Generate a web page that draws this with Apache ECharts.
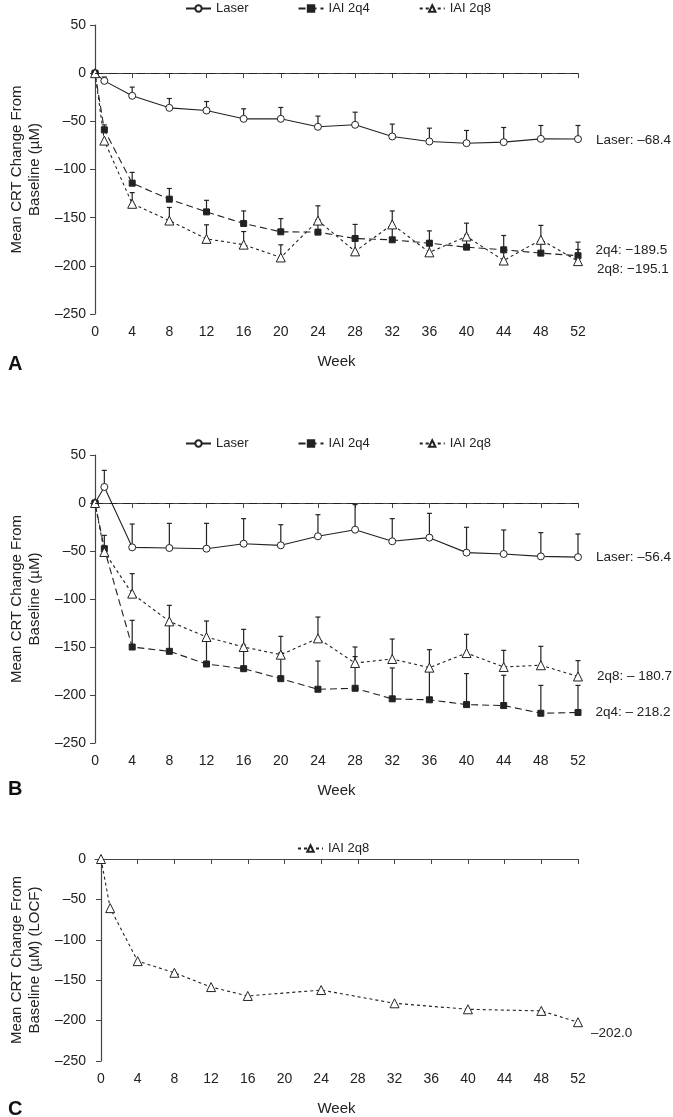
<!DOCTYPE html>
<html lang="en">

<head>
    <meta charset="UTF-8">
    <title>Mean CRT Change From Baseline</title>
    <style>
        html,
        body {
            margin: 0;
            padding: 0;
            width: 100%;
            height: 100%;
            background: #fff;
        }
    </style>
</head>

<body>
    <div id="main" style="width: 673px;height:1117px;"></div>
    <script src="https://cdn.jsdelivr.net/npm/echarts@6/dist/echarts.min.js"></script>
    <script type="text/javascript">
        // weeks of the visits
        var weeks = [0, 1, 4, 8, 12, 16, 20, 24, 28, 32, 36, 40, 44, 48, 52];
        var weeksC = [0, 1, 4, 8, 12, 16, 24, 32, 40, 48, 52];
        var weekTicks = [0, 4, 8, 12, 16, 20, 24, 28, 32, 36, 40, 44, 48, 52];

        // panel A: means and top of the error bars
        var laserA = [0, -8, -23.5, -36, -38.8, -47.4, -47.4, -55.7, -53.6, -65.7, -70.9, -72.7, -71.6, -68.2, -68.4];
        var laserATop = [null, -4, -14.5, -26.3, -29.4, -37, -35.6, -44.6, -40.5, -52.9, -57.1, -59.5, -56.4, -54.3, -54.3];
        var q4A = [0, -58.8, -114.2, -130.8, -144, -156, -164.7, -165, -171.6, -173, -176.5, -180.6, -183.4, -186.8, -189.5];
        var q4ATop = [null, -53.7, -103, -119.7, -132, -143, -151, -152, -157, -161, -163.7, -168, -168.5, -174, -175.4];
        var q8A = [0, -70, -135.6, -153, -172, -178, -191.3, -153, -185, -157, -186, -169.5, -194.5, -173, -195.1];
        var q8ATop = [null, null, -124, -139.4, -157.4, -164.4, -178.2, -137.7, -172, -143, -174, -155.7, -181, -158, -183];

        // panel B
        var laserB = [0, 16.7, -46.2, -46.9, -47.6, -42.4, -44.1, -34.7, -27.8, -39.9, -36.1, -51.7, -53.1, -55.6, -56.4];
        var laserBTop = [null, 34, -21.9, -21.2, -21.2, -16.3, -22.6, -12.2, -1.7, -16.3, -10.8, -25.3, -28.1, -30.9, -32.3];
        var q4B = [0, -47.6, -150, -154.5, -167.7, -172.6, -183, -194, -193, -204, -205, -210, -211, -219, -218.2];
        var q4BTop = [null, -33.7, -122.2, -126, -140, -148, -156, -164.6, -160, -171.8, -174, -177.7, -179.5, -190, -190];
        var q8B = [0, -51, -94.4, -123.3, -139.6, -150, -158, -141, -166.7, -162.5, -171.5, -156.3, -170.8, -169, -180.7];
        var q8BTop = [null, null, -73.6, -106.6, -122.9, -131.6, -138.9, -118.8, -150, -141.7, -152.8, -136.8, -153.5, -149.3, -164.2];

        // panel C (LOCF)
        var q8C = [0, -60.8, -126.4, -140.8, -158.5, -169.5, -162.2, -178.6, -186, -188, -202.0];

        var font = 'Liberation Sans, Arial, sans-serif';
        var ink = '#222';

        var myChart = echarts.init(document.getElementById('main'));

        function minus(v) {
            return v < 0 ? '\u2013' + Math.abs(v) : '' + v;
        }

        // pair weeks with values, the last point can carry a label
        function pts(xs, ys, endText, offset) {
            return xs.map(function (x, i) {
                var item = { value: [x, ys[i]] };
                if (endText && i === xs.length - 1) {
                    item.label = {
                        show: true,
                        position: 'right',
                        distance: 14,
                        offset: offset || [0, 0],
                        formatter: endText,
                        color: ink,
                        fontSize: 13.5,
                        fontFamily: font
                    };
                }
                return item;
            });
        }

        function errData(xs, ys, tops) {
            var out = [];
            xs.forEach(function (x, i) {
                if (tops[i] != null) out.push([x, ys[i], tops[i]]);
            });
            return out;
        }

        function errSeries(idx, xs, ys, tops) {
            return {
                type: 'custom',
                xAxisIndex: idx,
                yAxisIndex: idx,
                silent: true,
                z: 1,
                renderItem: function (params, api) {
                    var p0 = api.coord([api.value(0), api.value(1)]);
                    var p1 = api.coord([api.value(0), api.value(2)]);
                    return {
                        type: 'group',
                        children: [{
                            type: 'line',
                            shape: { x1: p0[0], y1: p0[1], x2: p1[0], y2: p1[1] },
                            style: { stroke: ink, lineWidth: 1.2 }
                        }, {
                            type: 'line',
                            shape: { x1: p1[0] - 2.5, y1: p1[1], x2: p1[0] + 2.5, y2: p1[1] },
                            style: { stroke: ink, lineWidth: 1.2 }
                        }]
                    };
                },
                encode: { x: 0, y: [1, 2] },
                data: errData(xs, ys, tops)
            };
        }

        var styles = {
            'Laser': { symbol: 'circle', symbolSize: 7, fill: '#fff', dash: 'solid' },
            'IAI 2q4': { symbol: 'rect', symbolSize: 6, fill: ink, dash: [7, 4] },
            'IAI 2q8': { symbol: 'triangle', symbolSize: 9, fill: '#fff', dash: [3, 3] }
        };

        function lineSeries(name, idx, xs, ys, endText, offset, zeroLine) {
            var st = styles[name];
            var s = {
                name: name,
                type: 'line',
                xAxisIndex: idx,
                yAxisIndex: idx,
                z: 3,
                symbol: st.symbol,
                symbolSize: st.symbolSize,
                showAllSymbol: true,
                itemStyle: { color: st.fill, borderColor: ink, borderWidth: 1 },
                lineStyle: { color: ink, width: 1.1, type: st.dash },
                data: pts(xs, ys, endText, offset)
            };
            if (zeroLine) {
                s.markLine = {
                    silent: true,
                    symbol: 'none',
                    label: { show: false },
                    lineStyle: { color: ink, width: 1, type: [8, 6] },
                    data: [{ yAxis: 0 }]
                };
            }
            return s;
        }

        function xAxis(idx, min) {
            return {
                type: 'value',
                gridIndex: idx,
                min: min,
                max: 52,
                name: 'Week',
                nameLocation: 'middle',
                nameGap: 40,
                nameTextStyle: { color: ink, fontSize: 15, fontFamily: font },
                axisLine: { show: true, lineStyle: { color: '#444', width: 1.2 } },
                axisTick: { show: true, length: 5, customValues: weekTicks, lineStyle: { color: '#444' } },
                axisLabel: { customValues: weekTicks, margin: 11, color: ink, fontSize: 14, fontFamily: font },
                splitLine: { show: false }
            };
        }

        function yAxis(idx, max, name) {
            return {
                type: 'value',
                gridIndex: idx,
                min: -250,
                max: max,
                interval: 50,
                name: name,
                nameLocation: 'middle',
                nameGap: 47,
                nameTextStyle: { color: ink, fontSize: 15, lineHeight: 18, fontFamily: font },
                axisLine: { show: true, lineStyle: { color: '#444', width: 1.2 } },
                axisTick: { show: true, length: 5, lineStyle: { color: '#444' } },
                axisLabel: { margin: 9, color: ink, fontSize: 14, fontFamily: font, formatter: minus },
                splitLine: { show: false }
            };
        }

        function legend(left, top, names) {
            return {
                left: left,
                top: top,
                itemWidth: 25,
                itemHeight: 8,
                itemGap: 49,
                selectedMode: false,
                data: names,
                textStyle: { color: ink, fontSize: 13, fontFamily: font }
            };
        }

        function letter(text, top) {
            return {
                text: text,
                left: 3,
                top: top,
                textStyle: { color: '#111', fontSize: 20, fontWeight: 'bold', fontFamily: font }
            };
        }

        var yName = 'Mean CRT Change From\nBaseline (\u00b5M)';

        option = {
            animation: false,
            backgroundColor: '#fff',
            title: [letter('A', 349), letter('B', 774), letter('C', 1094)],
            legend: [
                legend(180, -3, ['Laser', 'IAI 2q4', 'IAI 2q8']),
                legend(180, 432, ['Laser', 'IAI 2q4', 'IAI 2q8']),
                legend(292, 837, ['IAI 2q8'])
            ],
            grid: [
                { left: 92, top: 25, width: 486, height: 289 },
                { left: 92, top: 455, width: 486, height: 288 },
                { left: 92, top: 859, width: 486, height: 204 }
            ],
            xAxis: [xAxis(0, 0), xAxis(1, 0), xAxis(2, -0.65)],
            yAxis: [
                yAxis(0, 50, yName),
                yAxis(1, 50, yName),
                yAxis(2, 0, yName + ' (LOCF)')
            ],
            series: [
                errSeries(0, weeks, laserA, laserATop),
                errSeries(0, weeks, q4A, q4ATop),
                errSeries(0, weeks, q8A, q8ATop),
                lineSeries('Laser', 0, weeks, laserA, 'Laser: \u201368.4', [0, 1], true),
                lineSeries('IAI 2q4', 0, weeks, q4A, '2q4: \u2212189.5', [0, -5]),
                lineSeries('IAI 2q8', 0, weeks, q8A, '2q8: \u2212195.1', [0, 8]),

                errSeries(1, weeks, laserB, laserBTop),
                errSeries(1, weeks, q4B, q4BTop),
                errSeries(1, weeks, q8B, q8BTop),
                lineSeries('Laser', 1, weeks, laserB, 'Laser: \u201356.4', [0, 0], true),
                lineSeries('IAI 2q4', 1, weeks, q4B, '2q4: \u2013 218.2', [0, 0]),
                lineSeries('IAI 2q8', 1, weeks, q8B, '2q8: \u2013 180.7', [0, 0]),

                lineSeries('IAI 2q8', 2, weeksC, q8C, '\u2013202.0', [-6, 11])
            ]
        };
        myChart.setOption(option);
    </script>
</body>

</html>
